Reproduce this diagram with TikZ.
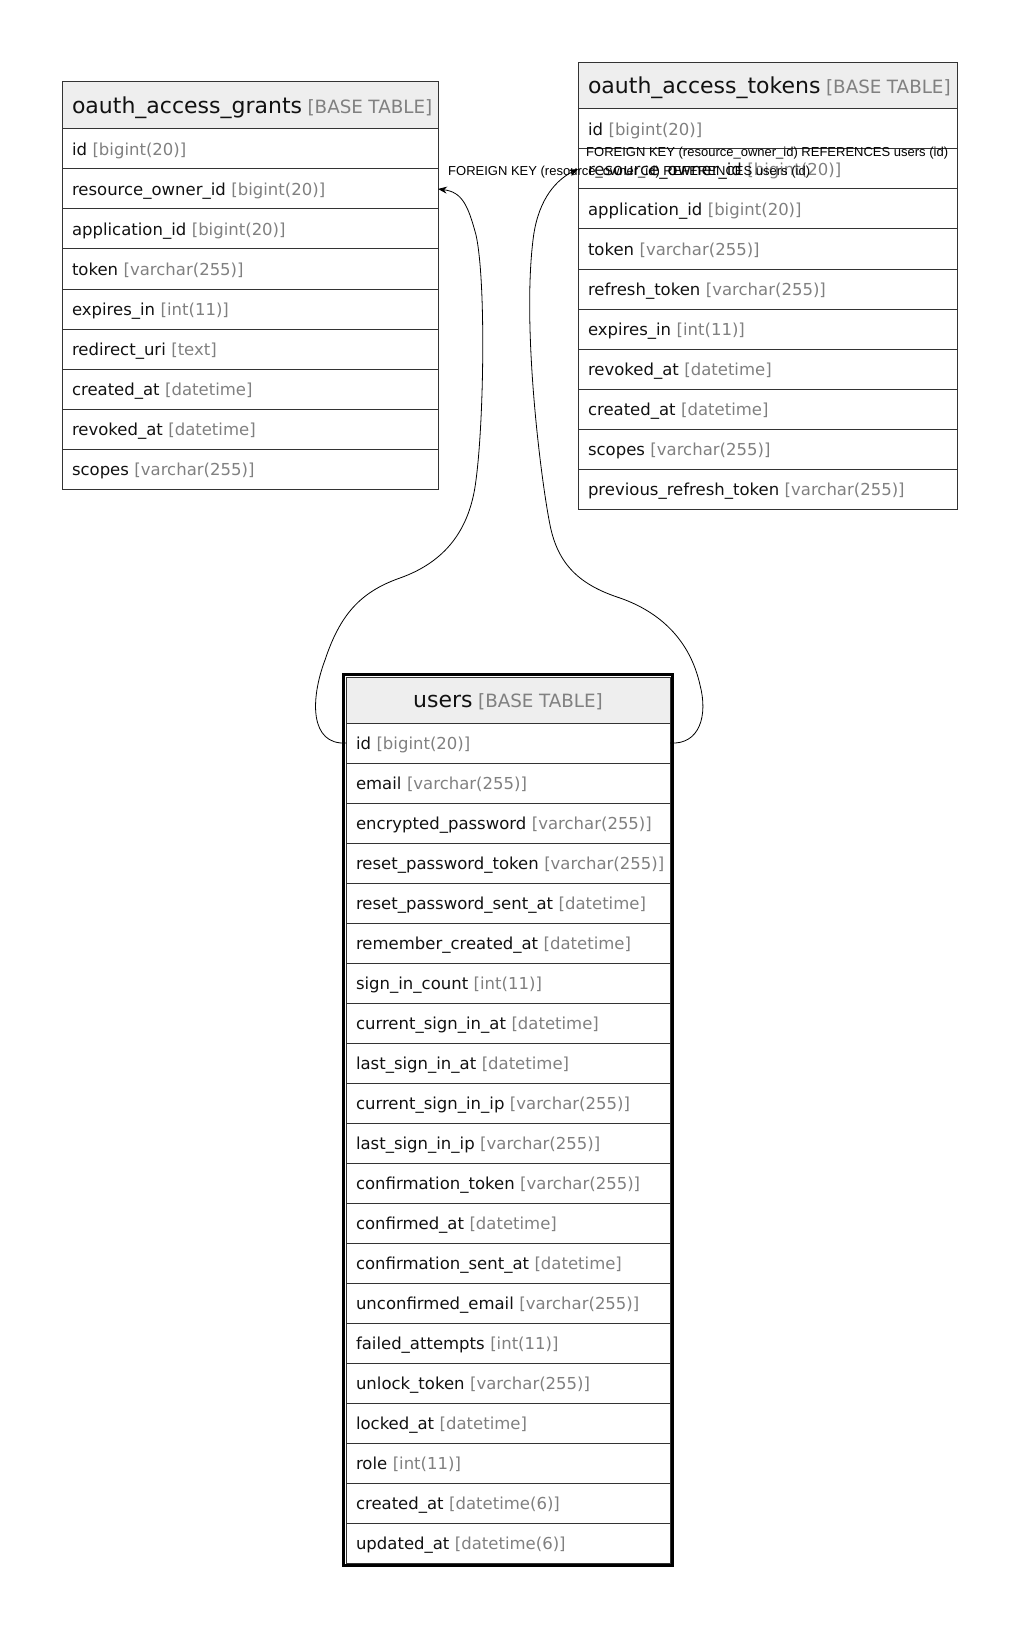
\documentclass[tikz,border=0pt]{standalone}
\usepackage{fontspec}
\setmainfont{DejaVu Sans}
\newfontfamily\labelfont{Liberation Sans}
\usepackage{xcolor}
\usetikzlibrary{positioning}
\usetikzlibrary{arrows.meta}

\definecolor{linec}{HTML}{333333}
\definecolor{headfill}{HTML}{EEEEEE}
\definecolor{typec}{HTML}{808080}
\definecolor{namec}{HTML}{111111}

\newcommand{\fld}[2]{\mbox{\textcolor{namec}{#1} \textcolor{typec}{[#2]}}}
\newcommand{\tbl}[1]{\mbox{{\fontsize{22}{25}\selectfont\textcolor{namec}{#1}} {\fontsize{18.3}{22}\selectfont\textcolor{typec}{[BASE TABLE]}}}}

\tikzset{
  tabhead/.style={draw=linec, fill=headfill, line width=1pt, inner xsep=10pt, inner ysep=0pt, outer sep=0pt, align=left, text height=20pt, text depth=4.5pt},
  tabrow/.style={draw=linec, line width=1pt, minimum height=40pt, inner xsep=10pt, inner ysep=0pt, outer sep=0pt, align=left, text height=16.5pt, text depth=4pt},
  fklabel/.style={font=\labelfont\fontsize{13}{15}\selectfont, text=black, inner sep=0pt, anchor=west},
  fkline/.style={-{Stealth[length=9pt,width=7pt,inset=3pt]}, line width=0.8pt}
}

\begin{document}
\begin{tikzpicture}[x=1pt,y=1pt,node distance=0pt,font=\fontsize{16.5}{20}\selectfont]
  \useasboundingbox (0,0) rectangle (1021,-1629);

  % oauth_access_grants
  \node[tabhead, anchor=north west, minimum height=47pt, text width=356pt] (gh) at (62,-82) {\tbl{oauth\_access\_grants}};
  \node[tabrow, text width=356pt] (g1) [below=of gh] {\fld{id}{bigint(20)}};
  \node[tabrow, text width=356pt] (g2) [below=of g1] {\fld{resource\_owner\_id}{bigint(20)}};
  \node[tabrow, text width=356pt] (g3) [below=of g2] {\fld{application\_id}{bigint(20)}};
  \node[tabrow, text width=356pt] (g4) [below=of g3] {\fld{token}{varchar(255)}};
  \node[tabrow, text width=356pt] (g5) [below=of g4] {\fld{expires\_in}{int(11)}};
  \node[tabrow, text width=356pt] (g6) [below=of g5] {\fld{redirect\_uri}{text}};
  \node[tabrow, text width=356pt] (g7) [below=of g6] {\fld{created\_at}{datetime}};
  \node[tabrow, text width=356pt] (g8) [below=of g7] {\fld{revoked\_at}{datetime}};
  \node[tabrow, text width=356pt] (g9) [below=of g8] {\fld{scopes}{varchar(255)}};

  % oauth_access_tokens
  \node[tabhead, anchor=north west, minimum height=46pt, text width=359pt] (th) at (578,-63) {\tbl{oauth\_access\_tokens}};
  \node[tabrow, text width=359pt] (t1) [below=of th] {\fld{id}{bigint(20)}};
  \node[tabrow, text width=359pt] (t2) [below=of t1] {\fld{resource\_owner\_id}{bigint(20)}};
  \node[tabrow, text width=359pt] (t3) [below=of t2] {\fld{application\_id}{bigint(20)}};
  \node[tabrow, text width=359pt] (t4) [below=of t3] {\fld{token}{varchar(255)}};
  \node[tabrow, text width=359pt] (t5) [below=of t4] {\fld{refresh\_token}{varchar(255)}};
  \node[tabrow, text width=359pt] (t6) [below=of t5] {\fld{expires\_in}{int(11)}};
  \node[tabrow, text width=359pt] (t7) [below=of t6] {\fld{revoked\_at}{datetime}};
  \node[tabrow, text width=359pt] (t8) [below=of t7] {\fld{created\_at}{datetime}};
  \node[tabrow, text width=359pt] (t9) [below=of t8] {\fld{scopes}{varchar(255)}};
  \node[tabrow, text width=359pt] (t10) [below=of t9] {\fld{previous\_refresh\_token}{varchar(255)}};

  % users
  \node[tabhead, anchor=north west, minimum height=46pt, text width=304pt, align=center] (uh) at (346,-677) {\tbl{users}};
  \node[tabrow, text width=304pt] (u1) [below=of uh] {\fld{id}{bigint(20)}};
  \node[tabrow, text width=304pt] (u2) [below=of u1] {\fld{email}{varchar(255)}};
  \node[tabrow, text width=304pt] (u3) [below=of u2] {\fld{encrypted\_password}{varchar(255)}};
  \node[tabrow, text width=304pt] (u4) [below=of u3] {\fld{reset\_password\_token}{varchar(255)}};
  \node[tabrow, text width=304pt] (u5) [below=of u4] {\fld{reset\_password\_sent\_at}{datetime}};
  \node[tabrow, text width=304pt] (u6) [below=of u5] {\fld{remember\_created\_at}{datetime}};
  \node[tabrow, text width=304pt] (u7) [below=of u6] {\fld{sign\_in\_count}{int(11)}};
  \node[tabrow, text width=304pt] (u8) [below=of u7] {\fld{current\_sign\_in\_at}{datetime}};
  \node[tabrow, text width=304pt] (u9) [below=of u8] {\fld{last\_sign\_in\_at}{datetime}};
  \node[tabrow, text width=304pt] (u10) [below=of u9] {\fld{current\_sign\_in\_ip}{varchar(255)}};
  \node[tabrow, text width=304pt] (u11) [below=of u10] {\fld{last\_sign\_in\_ip}{varchar(255)}};
  \node[tabrow, text width=304pt] (u12) [below=of u11] {\fld{confirmation\_token}{varchar(255)}};
  \node[tabrow, text width=304pt] (u13) [below=of u12] {\fld{confirmed\_at}{datetime}};
  \node[tabrow, text width=304pt] (u14) [below=of u13] {\fld{confirmation\_sent\_at}{datetime}};
  \node[tabrow, text width=304pt] (u15) [below=of u14] {\fld{unconfirmed\_email}{varchar(255)}};
  \node[tabrow, text width=304pt] (u16) [below=of u15] {\fld{failed\_attempts}{int(11)}};
  \node[tabrow, text width=304pt] (u17) [below=of u16] {\fld{unlock\_token}{varchar(255)}};
  \node[tabrow, text width=304pt] (u18) [below=of u17] {\fld{locked\_at}{datetime}};
  \node[tabrow, text width=304pt] (u19) [below=of u18] {\fld{role}{int(11)}};
  \node[tabrow, text width=304pt] (u20) [below=of u19] {\fld{created\_at}{datetime(6)}};
  \node[tabrow, text width=304pt] (u21) [below=of u20] {\fld{updated\_at}{datetime(6)}};
  \draw[black, line width=3pt] ([shift={(-2.5,2.5)}]uh.north west) rectangle ([shift={(2.5,-2.5)}]u21.south east);

  % foreign keys
  \draw[fkline] (u1.west) .. controls (310,-745) and (310,-700) .. (325,-660)
    .. controls (340,-615) and (360,-592) .. (400,-578)
    .. controls (445,-562) and (470,-530) .. (476,-480)
    .. controls (484,-420) and (486,-280) .. (476,-235)
    .. controls (468,-205) and (462,-192) .. (g2.east);
  \draw[fkline] (u1.east) .. controls (700,-745) and (708,-715) .. (700,-685)
    .. controls (690,-640) and (660,-612) .. (620,-598)
    .. controls (580,-585) and (558,-565) .. (550,-525)
    .. controls (541,-480) and (522,-330) .. (533,-240)
    .. controls (537,-205) and (552,-182) .. (t2.west);
  \node[fklabel] (fk1) at (448,-172) {FOREIGN KEY (resource\_owner\_id) REFERENCES users (id)};
  \node[fklabel] (fk2) at (586,-153) {FOREIGN KEY (resource\_owner\_id) REFERENCES users (id)};
\end{tikzpicture}
\end{document}
